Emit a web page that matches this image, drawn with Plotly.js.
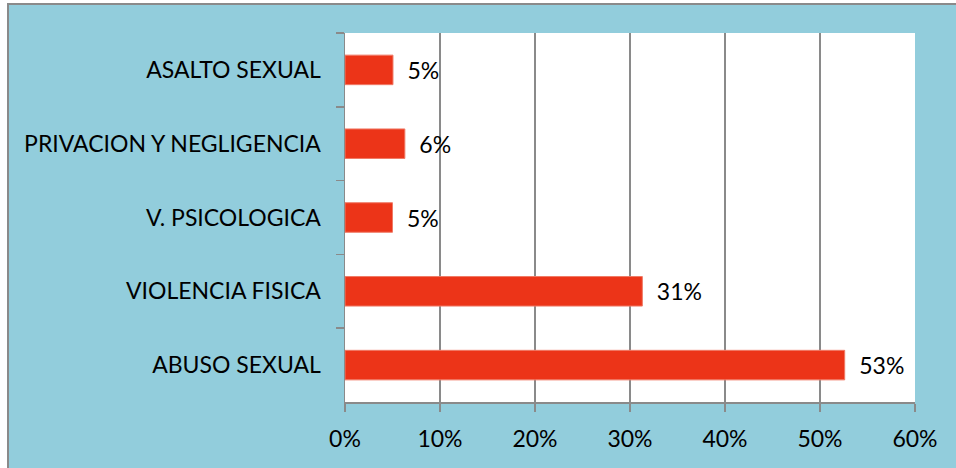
<!DOCTYPE html>
<html>
<head>
<meta charset="utf-8">
<script src="https://cdn.plot.ly/plotly-3.0.1.min.js"></script>
<style>
  html, body { margin: 0; padding: 0; background: #ffffff; width: 956px; height: 468px; overflow: hidden; }
  #frame { position: absolute; left: 7px; top: 3px; width: 951px; height: 467px; border-left: 2px solid #8a8a8a; border-top: 2px solid #8a8a8a; box-sizing: border-box; }
  #chart { position: absolute; left: 9px; top: 5px; width: 947px; height: 463px; }
</style>
</head>
<body>
<div id="frame"></div>
<div id="chart"></div>
<script>
// Categories, top to bottom as shown
const categories = ["ASALTO SEXUAL", "PRIVACION Y NEGLIGENCIA", "V. PSICOLOGICA", "VIOLENCIA FISICA", "ABUSO SEXUAL"];
// Percent values
const values = [5.05, 6.3, 5.0, 31.3, 52.6];
// Data labels as printed
const valueLabels = ["5%", "6%", "5%", "31%", "53%"];
// X axis tick values
const xTicks = [0, 10, 20, 30, 40, 50, 60];

const FONT = "Lato, 'Liberation Sans', sans-serif";
const FS = 23;

const trace = {
  type: "bar",
  orientation: "h",
  y: categories,
  x: values,
  text: valueLabels.map(t => "\u2002" + t),
  textposition: "outside",
  cliponaxis: false,
  textfont: { family: FONT, size: FS, color: "#000000" },
  marker: { color: "#EC3418", line: { color: "#F07A66", width: 1 } },
  hoverinfo: "none"
};

const layout = {
  width: 947,
  height: 463,
  paper_bgcolor: "#92CDDC",
  plot_bgcolor: "#FFFFFF",
  margin: { l: 336, r: 41, t: 28, b: 66, pad: 0 },
  showlegend: false,
  bargap: 0.6,
  font: { family: FONT, size: FS, color: "#000000" },
  xaxis: {
    range: [0, 60],
    tickvals: xTicks,
    ticktext: xTicks.map(v => v + "%"),
    ticks: "outside",
    ticklen: 8,
    tickwidth: 1.5,
    tickcolor: "#8a8a8a",
    showline: true,
    linecolor: "#8a8a8a",
    linewidth: 1.5,
    showgrid: true,
    gridcolor: "#8a8a8a",
    gridwidth: 1.5,
    zeroline: false,
    ticklabelstandoff: 8,
    tickfont: { family: FONT, size: FS, color: "#000000" },
    fixedrange: true
  },
  yaxis: {
    type: "category",
    autorange: "reversed",
    ticks: "outside",
    tickson: "boundaries",
    ticklen: 8,
    tickwidth: 1.5,
    tickcolor: "#8a8a8a",
    showline: true,
    linecolor: "#8a8a8a",
    linewidth: 1.5,
    showgrid: false,
    zeroline: false,
    ticklabelstandoff: 18,
    tickfont: { family: FONT, size: FS, color: "#000000" },
    fixedrange: true
  }
};

Plotly.newPlot("chart", [trace], layout, { displayModeBar: false, staticPlot: true });
</script>
</body>
</html>
